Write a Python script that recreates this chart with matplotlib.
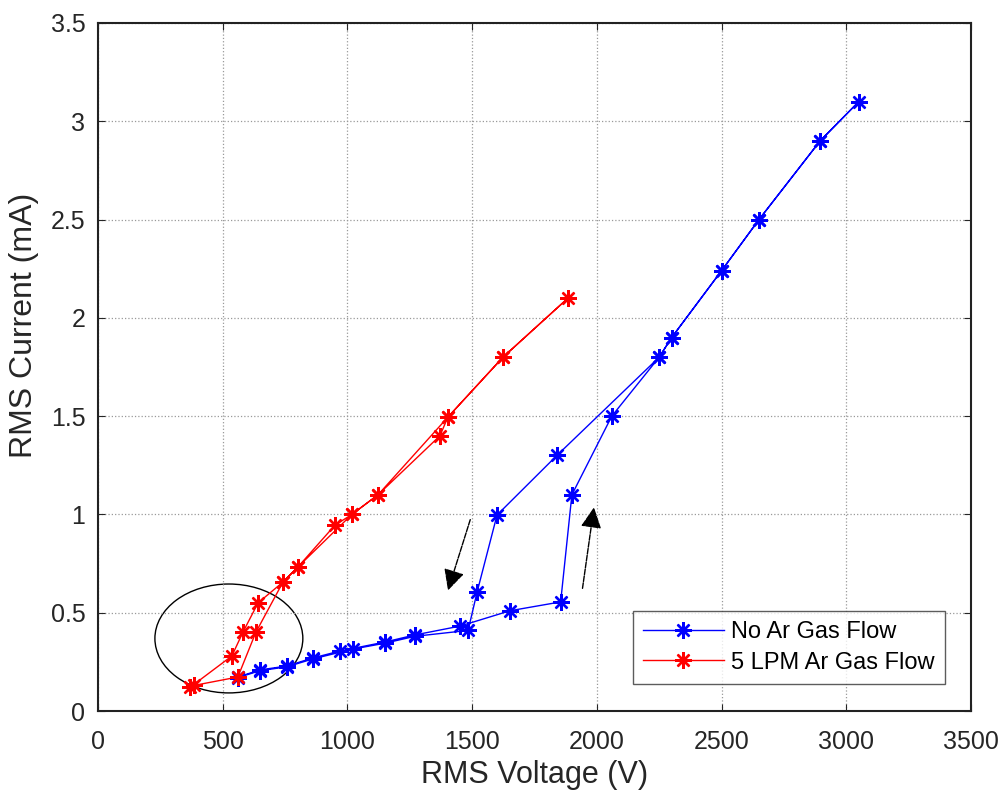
import numpy as np
import matplotlib.pyplot as plt
from matplotlib.patches import Ellipse

plt.rcParams['font.family'] = ['Liberation Sans', 'DejaVu Sans']

# No Ar gas flow: voltage up, then back down (hysteresis loop)
no_ar_v = [561, 650, 758, 862, 970, 1151, 1271, 1452, 1652, 1855, 1900, 2060, 2250, 2300,
           2500, 2650, 2895, 3050,
           2895, 2650, 2500, 2300, 2250, 1840, 1600, 1520, 1484, 1271, 1151, 1022, 862, 758, 650, 561]
no_ar_i = [0.173, 0.209, 0.229, 0.27, 0.305, 0.351, 0.387, 0.432, 0.51, 0.555, 1.10, 1.50, 1.80, 1.90,
           2.24, 2.50, 2.90, 3.10,
           2.90, 2.50, 2.24, 1.90, 1.80, 1.30, 0.997, 0.605, 0.41, 0.38, 0.345, 0.315, 0.265, 0.225, 0.205, 0.17]

# 5 LPM Ar gas flow
ar_v = [369, 537, 581, 642, 742, 802, 950, 1018, 1123, 1371, 1403, 1624, 1884,
        1624, 1403, 1123, 1018, 802, 742, 633, 561, 385]
ar_i = [0.12, 0.28, 0.40, 0.55, 0.656, 0.733, 0.945, 1.0, 1.10, 1.40, 1.495, 1.80, 2.10,
        1.80, 1.495, 1.10, 1.0, 0.733, 0.656, 0.40, 0.173, 0.13]

fig = plt.figure(figsize=(9.99, 7.93), dpi=100)
ax = fig.add_axes([0.098, 0.1034, 0.874, 0.8676])

star = (8, 2, 0)
ax.plot(no_ar_v, no_ar_i, color='blue', linewidth=1.0, marker=star, markersize=12,
        markeredgewidth=1.7, label='No Ar Gas Flow')
ax.plot(ar_v, ar_i, color='red', linewidth=1.0, marker=star, markersize=12,
        markeredgewidth=1.7, label='5 LPM Ar Gas Flow')

# circled region
ax.add_patch(Ellipse((525, 0.369), 593, 0.554, fill=False, edgecolor='black', linewidth=1.0))

# direction arrows
ax.annotate('', xy=(1400, 0.6), xytext=(1496, 0.987),
            arrowprops=dict(arrowstyle='-|>', color='black', lw=1.0, mutation_scale=32,
                            linestyle=(0, (4, 1))))
ax.annotate('', xy=(1990, 1.05), xytext=(1941, 0.61),
            arrowprops=dict(arrowstyle='-|>', color='black', lw=1.0, mutation_scale=32,
                            linestyle=(0, (4, 1))))

ax.set_xlim(0, 3500)
ax.set_ylim(0, 3.5)
ax.set_xticks(np.arange(0, 3501, 500))
ax.set_yticks(np.arange(0, 3.51, 0.5))
ax.set_yticklabels(['0', '0.5', '1', '1.5', '2', '2.5', '3', '3.5'])
ax.grid(True, linestyle=':', color='#999999', linewidth=0.9)
ax.tick_params(direction='in', top=True, right=True, labelsize=18, colors='#262626',
               length=5)
ax.tick_params(axis='x', pad=14)
ax.tick_params(axis='y', pad=9)
for s in ax.spines.values():
    s.set_linewidth(1.5)
    s.set_color('#222222')

ax.set_xlabel('RMS Voltage (V)', fontsize=22, color='#262626', labelpad=4)
ax.set_ylabel('RMS Current (mA)', fontsize=23, color='#262626')
ax.yaxis.set_label_coords(-0.068, 0.561)

leg = ax.legend(loc='lower right', bbox_to_anchor=(0.970, 0.039), borderaxespad=0,
                fontsize=17, frameon=True, fancybox=False, edgecolor='#333333',
                handlelength=3.4, borderpad=0.45, labelspacing=0.35, handletextpad=0.3)
leg.get_frame().set_linewidth(1.0)

fig.savefig('out.png', dpi=100)
